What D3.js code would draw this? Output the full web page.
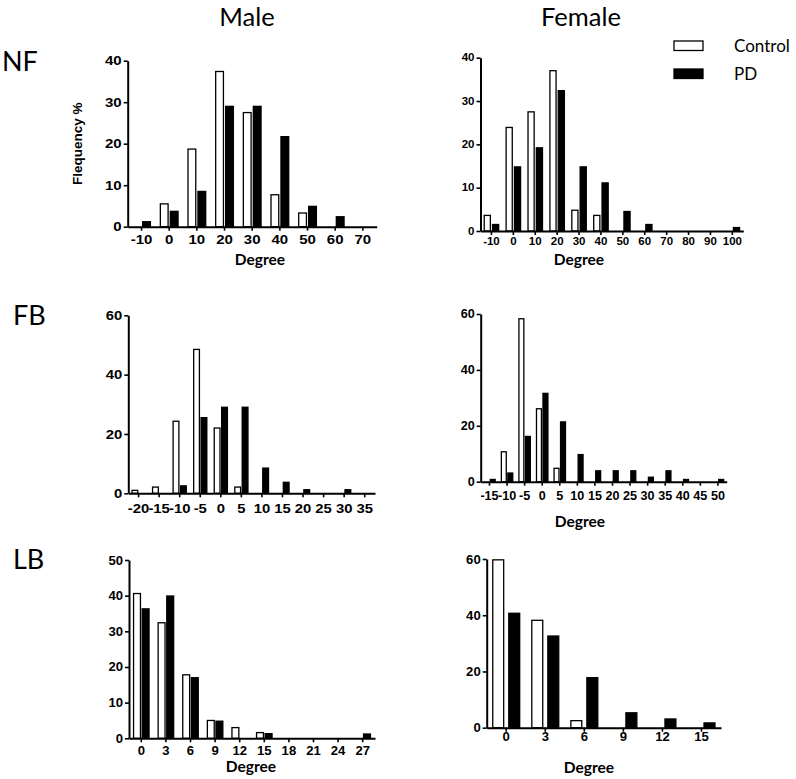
<!DOCTYPE html>
<html>
<head>
<meta charset="utf-8">
<script src="https://cdn.jsdelivr.net/npm/d3@7"></script>
<style>
  html, body { margin: 0; padding: 0; background: #fff; }
  svg { display: block; }
</style>
</head>
<body>
<svg id="chart" width="796" height="779"></svg>
<script>
// ---------------- DATA ----------------
const seriesNames = ["Control", "PD"];
const columnTitles = ["Male", "Female"];
const rowTitles = ["NF", "FB", "LB"];

const nfMaleCats = [-10, 0, 10, 20, 30, 40, 50, 60, 70];
const nfMaleControl = [0, 5.5, 18.7, 37.4, 27.5, 7.7, 3.3, 0, 0];
const nfMalePD = [1.2, 3.7, 8.5, 29.0, 29.0, 21.7, 4.9, 2.4, 0];
const nfMaleYTicks = [0, 10, 20, 30, 40];

const nfFemaleCats = [-10, 0, 10, 20, 30, 40, 50, 60, 70, 80, 90, 100];
const nfFemaleControl = [3.6, 23.9, 27.5, 37.0, 4.8, 3.6, 0, 0, 0, 0, 0, 0];
const nfFemalePD = [1.5, 14.8, 19.2, 32.4, 14.8, 11.1, 4.5, 1.5, 0, 0, 0, 0.8];
const nfFemaleYTicks = [0, 10, 20, 30, 40];

const fbMaleCats = [-20, -15, -10, -5, 0, 5, 10, 15, 20, 25, 30, 35];
const fbMaleControl = [1.0, 2.1, 24.3, 48.5, 22.0, 2.1, 0, 0, 0, 0, 0, 0];
const fbMalePD = [0, 0, 2.5, 25.5, 29.0, 29.0, 8.5, 3.7, 1.2, 0, 1.2, 0];
const fbMaleYTicks = [0, 20, 40, 60];

const fbFemaleCats = [-15, -10, -5, 0, 5, 10, 15, 20, 25, 30, 35, 40, 45, 50];
const fbFemaleControl = [0, 10.7, 58.3, 26.1, 4.8, 0, 0, 0, 0, 0, 0, 0, 0, 0];
const fbFemalePD = [0.8, 3.1, 16.2, 31.6, 21.4, 9.7, 3.9, 3.9, 3.9, 1.6, 3.9, 0.8, 0, 0.8];
const fbFemaleYTicks = [0, 20, 40, 60];

const lbMaleCats = [0, 3, 6, 9, 12, 15, 18, 21, 24, 27];
const lbMaleControl = [40.6, 32.4, 17.8, 5.0, 3.0, 1.6, 0, 0, 0, 0];
const lbMalePD = [36.3, 39.9, 17.0, 4.8, 0, 1.3, 0, 0, 0, 1.2];
const lbMaleYTicks = [0, 10, 20, 30, 40, 50];

const lbFemaleCats = [0, 3, 6, 9, 12, 15];
const lbFemaleControl = [59.7, 38.2, 2.5, 0, 0, 0];
const lbFemalePD = [40.7, 32.6, 17.8, 5.3, 3.1, 1.7];
const lbFemaleYTicks = [0, 20, 40, 60];

const xTitle = "Degree";
const yTitle = "Flequency %";

// ---------------- LAYOUT ----------------
const panels = [
  { cats: nfMaleCats, control: nfMaleControl, pd: nfMalePD, yTicks: nfMaleYTicks,
    x0: 127.7, x1: 376.7, y0: 226.7, yTop: 60.7, fs: 12, sx: 1.25, xLabOff: 17.3, gap: 0.08,
    degree: { x: 260, y: 265 }, ylabel: true },
  { cats: nfFemaleCats, control: nfFemaleControl, pd: nfFemalePD, yTicks: nfFemaleYTicks,
    x0: 480.5, x1: 743.3, y0: 231, yTop: 57.7, fs: 10, sx: 1.15, xLabOff: 14, gap: 0.1,
    degree: { x: 579, y: 265 } },
  { cats: fbMaleCats, control: fbMaleControl, pd: fbMalePD, yTicks: fbMaleYTicks,
    x0: 128.3, x1: 375, y0: 493.3, yTop: 315.3, fs: 13.5, sx: 1.1, xLabOff: 20, gap: 0.08,
    degree: null },
  { cats: fbFemaleCats, control: fbFemaleControl, pd: fbFemalePD, yTicks: fbFemaleYTicks,
    x0: 480.7, x1: 726.7, y0: 481.7, yTop: 314, fs: 12, sx: 1.05, xLabOff: 18, gap: 0.09,
    degree: { x: 580, y: 527 } },
  { cats: lbMaleCats, control: lbMaleControl, pd: lbMalePD, yTicks: lbMaleYTicks,
    x0: 129, x1: 375, y0: 738.3, yTop: 560, fs: 12.5, sx: 1.05, xLabOff: 17, gap: 0.07,
    degree: { x: 251, y: 772 } },
  { cats: lbFemaleCats, control: lbFemaleControl, pd: lbFemalePD, yTicks: lbFemaleYTicks,
    x0: 486.7, x1: 721, y0: 727.7, yTop: 559, fs: 12.5, sx: 1.05, xLabOff: 11, gap: 0.13,
    degree: { x: 589, y: 773 } }
];

const svg = d3.select("#chart");
const tickFont = "'Liberation Sans', Arial, sans-serif";
const titleFont = "Lato, 'Open Sans', sans-serif";

panels.forEach(p => {
  const g = svg.append("g");
  const x = d3.scaleBand().domain(p.cats.map(String)).range([p.x0, p.x1]).padding(0);
  const yMax = p.yTicks[p.yTicks.length - 1];
  const y = d3.scaleLinear().domain([0, yMax]).range([p.y0, p.yTop]);
  const step = x.step();
  const w = step * 0.28;
  const gp = step * p.gap;

  const rows = p.cats.map((c, i) => ({ c: String(c), control: p.control[i], pd: p.pd[i] }));

  // bars
  const bars = [];
  rows.forEach(r => {
    const cx = x(r.c) + step / 2;
    if (r.control > 0) bars.push({ x: cx - gp / 2 - w, v: r.control, fill: "#fff" });
    if (r.pd > 0) bars.push({ x: cx + gp / 2, v: r.pd, fill: "#000" });
  });
  g.selectAll("rect.bar").data(bars).enter().append("rect")
    .attr("class", "bar")
    .attr("x", d => d.x)
    .attr("width", w)
    .attr("y", d => y(d.v))
    .attr("height", d => y(0) - y(d.v))
    .attr("fill", d => d.fill)
    .attr("stroke", "#000")
    .attr("stroke-width", 1.3);

  // x axis
  const tickSize = 4;
  const xAxis = d3.axisBottom(x).tickSize(tickSize).tickSizeOuter(0)
    .tickPadding(Math.max(0, p.xLabOff - tickSize - 0.71 * p.fs));
  const gx = g.append("g").attr("transform", `translate(0,${p.y0})`).call(xAxis);
  gx.select(".domain").attr("stroke-width", 2);
  gx.selectAll(".tick line").attr("stroke-width", 1.6);
  gx.selectAll(".tick text")
    .attr("font-family", tickFont).attr("font-weight", "bold")
    .attr("font-size", p.fs).attr("fill", "#000")
    .attr("transform", `scale(${p.sx},1)`);

  // y axis
  const yAxis = d3.axisLeft(y).tickValues(p.yTicks).tickSize(tickSize).tickSizeOuter(0).tickPadding(2);
  const gy = g.append("g").attr("transform", `translate(${p.x0},0)`).call(yAxis);
  gy.select(".domain").attr("stroke-width", 2);
  gy.selectAll(".tick line").attr("stroke-width", 1.6);
  gy.selectAll(".tick text")
    .attr("font-family", tickFont).attr("font-weight", "bold")
    .attr("font-size", p.fs).attr("fill", "#000")
    .attr("x", 0)
    .attr("transform", `translate(${-(tickSize + 2)},0) scale(${p.sx},1)`);

  gx.select(".domain").raise();

  if (p.degree) {
    g.append("text").attr("x", p.degree.x).attr("y", p.degree.y)
      .attr("text-anchor", "middle")
      .attr("font-family", titleFont).attr("font-weight", "bold")
      .attr("font-size", 15.5).attr("fill", "#000")
      .text(xTitle);
  }
  if (p.ylabel) {
    g.append("text")
      .attr("transform", `translate(82,${(p.y0 + p.yTop) / 2 + 0}) rotate(-90)`)
      .attr("text-anchor", "middle")
      .attr("font-family", tickFont).attr("font-weight", "bold")
      .attr("font-size", 13.5).attr("fill", "#000")
      .text(yTitle);
  }
});

// column titles
const colX = [247, 581];
columnTitles.forEach((t, i) => {
  svg.append("text").attr("x", colX[i]).attr("y", 26)
    .attr("text-anchor", "middle")
    .attr("font-family", titleFont).attr("font-size", 25.5).attr("fill", "#000")
    .text(t);
});

// row titles
const rowPos = [{ x: 2, y: 71 }, { x: 13, y: 325 }, { x: 13, y: 569 }];
rowTitles.forEach((t, i) => {
  svg.append("text").attr("x", rowPos[i].x).attr("y", rowPos[i].y)
    .attr("font-family", titleFont).attr("font-size", 27).attr("fill", "#000")
    .text(t);
});

// legend
const legendY = [41, 69];
seriesNames.forEach((s, i) => {
  svg.append("rect").attr("x", 674).attr("y", legendY[i])
    .attr("width", 29).attr("height", 9.5)
    .attr("fill", i === 0 ? "#fff" : "#000")
    .attr("stroke", "#000").attr("stroke-width", 1.3);
  svg.append("text").attr("x", 734).attr("y", legendY[i] + 11)
    .attr("font-family", titleFont).attr("font-size", 17).attr("fill", "#000")
    .text(s);
});
</script>
</body>
</html>
